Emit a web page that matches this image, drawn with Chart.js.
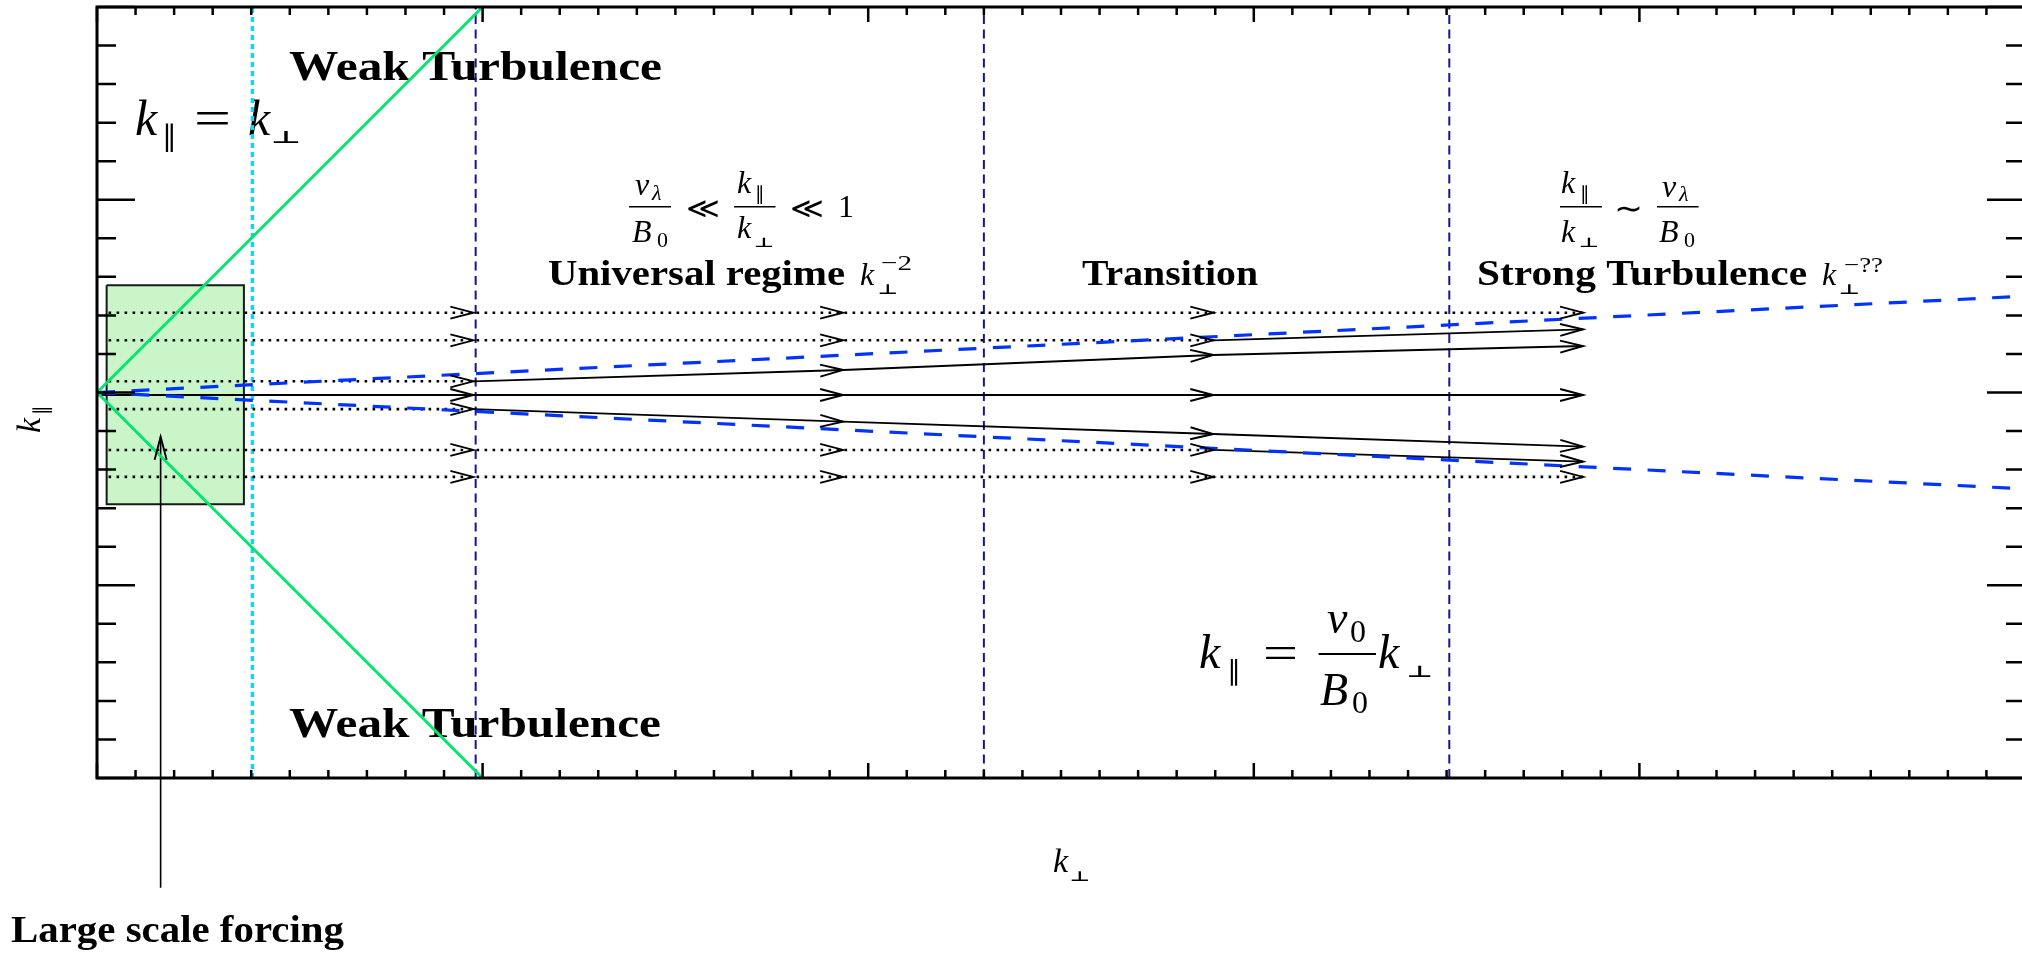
<!DOCTYPE html>
<html><head><meta charset="utf-8">
<script src="https://cdn.jsdelivr.net/npm/chart.js@4.4.1/dist/chart.umd.min.js"></script>
<style>
html,body{margin:0;padding:0;background:#fff;overflow:hidden;width:2022px;height:953px}
#wrap{width:2026px;height:953px;position:relative}
</style></head>
<body><div id="wrap"><canvas id="c" width="2026" height="953"></canvas></div>
<script>
// ---------- data ----------
const xRange = [0, 50];
const yRange = [-10, 10];
const xMinorStep = 1, xMajorStep = 10;
const yMinorStep = 1, yMajorStep = 5;

const knotsX = [0.3, 9.76, 19.35, 28.95, 38.54];
const dottedY = [2.07, 1.354, 0.29, -0.43, -1.49, -2.19];
const dottedKnots = [5, 4, 2, 2, 4, 5];

const centerX = [0, 9.76, 19.35, 28.95, 38.54];
const centerY = [-0.065, -0.065, -0.065, -0.065, -0.065];

const fanX = [9.76, 19.35, 28.95, 38.54];
const fanUpperY = [0.29, 0.584, 0.973, 1.206];
const fanLowerY = [-0.43, -0.757, -1.077, -1.406];

const outerX = [28.95, 38.54];
const outerUpperY = [1.354, 1.64];
const outerLowerY = [-1.49, -1.795];

const blueX = [0, 50];
const blueUpperY = [0, 2.5];
const blueLowerY = [0, -2.5];

const greenX = [0, 10];
const greenUpperY = [0, 10];
const greenLowerY = [0, -10];

const regimeX = [9.82, 23.0, 35.07];
const cyanX = [4.03];

const boxX = [0.25, 3.81];
const boxY = [-2.9, 2.78];

const forcingX = [1.65, 1.65];
const forcingY = [-12.85, -1.15];

// ---------- build datasets ----------
const pts = (xs, ys) => xs.map((x, i) => ({x, y: ys[i]}));
const datasets = [];
function add(points, opts) {
  datasets.push(Object.assign({data: points, showLine: true, pointRadius: 0, pointHoverRadius: 0,
    borderWidth: 1.8, borderColor: '#000', fill: false, tension: 0}, opts));
}
// green lines (top)
add(pts(greenX, greenUpperY), {borderColor: '#00e66e', borderWidth: 3, order: 1});
add(pts(greenX, greenLowerY), {borderColor: '#00e66e', borderWidth: 3, order: 1});
// blue dashed
add(pts(blueX, blueUpperY), {borderColor: '#0033ff', borderWidth: 3.2, borderDash: [18, 16.5], order: 2});
add(pts(blueX, blueLowerY), {borderColor: '#0033ff', borderWidth: 3.2, borderDash: [18, 16.5], order: 2});
// dotted arrow rows
dottedY.forEach((yv, i) => {
  const xs = knotsX.slice(0, dottedKnots[i]);
  add(pts(xs, xs.map(() => yv)), {borderDash: [2.6, 5.4], borderWidth: 2.6, arrows: true, order: 3});
});
// solid arrows
add(pts(centerX, centerY), {arrows: true, order: 3});
add(pts(fanX, fanUpperY), {arrows: true, order: 3});
add(pts(fanX, fanLowerY), {arrows: true, order: 3});
add(pts(outerX, outerUpperY), {arrows: true, order: 3});
add(pts(outerX, outerLowerY), {arrows: true, order: 3});
// forcing arrow (goes below the axis)
add(pts(forcingX, forcingY), {borderWidth: 1.6, arrows: true, clip: false, order: 3});
// vertical regime lines
regimeX.forEach(xv => add(pts([xv, xv], yRange), {borderColor: '#14149b', borderWidth: 2, borderDash: [9, 5.5], order: 4}));
cyanX.forEach(xv => add(pts([xv, xv], yRange), {borderColor: '#00dcff', borderWidth: 3.5, borderDash: [5, 4], order: 4}));
// forcing box: outline + fill
add(pts([boxX[0], boxX[1], boxX[1], boxX[0], boxX[0]], [boxY[1], boxY[1], boxY[0], boxY[0], boxY[1]]),
    {borderColor: '#1a1a1a', borderWidth: 2, order: 9});
add(pts(boxX, [boxY[1], boxY[1]]), {borderWidth: 0, fill: '+1', backgroundColor: '#c9f5c9', order: 10});
add(pts(boxX, [boxY[0], boxY[0]]), {borderWidth: 0, order: 10});

// ---------- text layout ----------
const SERIF = '"Liberation Serif","DejaVu Serif",serif';
function fontOf(s, z) {
  if (s === 'b') return 'bold ' + z + 'px ' + SERIF;
  if (s === 'i') return 'italic ' + z + 'px ' + SERIF;
  if (s === 'm') return z + 'px "DejaVu Sans","DejaVu Serif",sans-serif';
  if (s === 'mb') return 'bold ' + z + 'px "DejaVu Sans","DejaVu Serif",sans-serif';
  return z + 'px ' + SERIF;
}
const texts = [
  {t: 'Weak Turbulence', s: 'b', z: 43, x: 289, y: 80, w: 373},
  {t: 'Weak Turbulence', s: 'b', z: 43, x: 289, y: 737, w: 372},
  {t: 'Universal regime', s: 'b', z: 35, x: 548, y: 285, w: 297},
  {t: 'Transition', s: 'b', z: 35, x: 1082, y: 285, w: 176},
  {t: 'Strong Turbulence', s: 'b', z: 35, x: 1477, y: 285, w: 330},
  {t: 'Large scale forcing', s: 'b', z: 37, x: 11, y: 942, w: 333},
  // k_par = k_perp (top left)
  {t: 'k', s: 'i', z: 50, x: 135, y: 135},
  {t: '∥', s: 'm', z: 29, x: 162, y: 146},
  {t: '=', s: 'r', z: 50, x: 194, y: 135, w: 37},
  {t: 'k', s: 'i', z: 50, x: 248, y: 135},
  {t: '⊥', s: 'mb', z: 17, x: 271, y: 143, w: 30},
  // v_l/B0 << kpar/kperp << 1
  {t: 'v', s: 'i', z: 32, x: 635, y: 195},
  {t: 'λ', s: 'i', z: 22, x: 652, y: 200},
  {t: 'B', s: 'i', z: 32, x: 632, y: 241.7},
  {t: '0', s: 'r', z: 22, x: 657, y: 246.7},
  {t: '≪', s: 'm', z: 29, x: 686, y: 218, w: 34},
  {t: 'k', s: 'i', z: 32, x: 737, y: 193.3},
  {t: '∥', s: 'm', z: 19, x: 755, y: 200},
  {t: 'k', s: 'i', z: 32, x: 737, y: 238.3},
  {t: '⊥', s: 'mb', z: 13, x: 754, y: 246.5, w: 20},
  {t: '≪', s: 'm', z: 29, x: 790, y: 218, w: 34},
  {t: '1', s: 'r', z: 32, x: 838, y: 216.7},
  // kpar/kperp ~ v_l/B0
  {t: 'k', s: 'i', z: 32, x: 1561, y: 193},
  {t: '∥', s: 'm', z: 19, x: 1580, y: 200},
  {t: 'k', s: 'i', z: 32, x: 1561, y: 241.7},
  {t: '⊥', s: 'mb', z: 13, x: 1579, y: 247, w: 20},
  {t: '∼', s: 'm', z: 32, x: 1614, y: 219, w: 29},
  {t: 'v', s: 'i', z: 32, x: 1662, y: 196.7},
  {t: 'λ', s: 'i', z: 22, x: 1679, y: 201},
  {t: 'B', s: 'i', z: 32, x: 1659, y: 241.7},
  {t: '0', s: 'r', z: 22, x: 1684, y: 246.7},
  // exponents
  {t: 'k', s: 'i', z: 32, x: 860, y: 285},
  {t: '⊥', s: 'mb', z: 14, x: 878, y: 293.5, w: 20},
  {t: '−2', s: 'r', z: 22, x: 881, y: 270, w: 31},
  {t: 'k', s: 'i', z: 32, x: 1822, y: 285},
  {t: '⊥', s: 'mb', z: 14, x: 1839, y: 293.5, w: 21},
  {t: '−??', s: 'r', z: 22, x: 1844, y: 272, w: 39},
  // k_par = v0/B0 k_perp
  {t: 'k', s: 'i', z: 48, x: 1199, y: 668},
  {t: '∥', s: 'm', z: 27, x: 1227, y: 680},
  {t: '=', s: 'r', z: 46, x: 1263, y: 668, w: 35},
  {t: 'v', s: 'i', z: 46, x: 1327, y: 633},
  {t: '0', s: 'r', z: 32, x: 1350, y: 641.7},
  {t: 'B', s: 'i', z: 46, x: 1320, y: 705},
  {t: '0', s: 'r', z: 32, x: 1352, y: 713},
  {t: 'k', s: 'i', z: 48, x: 1378, y: 668},
  {t: '⊥', s: 'mb', z: 16, x: 1407, y: 677, w: 26},
  // x axis title
  {t: 'k', s: 'i', z: 34, x: 1053, y: 871.7},
  {t: '⊥', s: 'mb', z: 14, x: 1070, y: 880.5, w: 20}
];
const bars = [
  {x1: 629, x2: 671, y: 206.7, lw: 1.6},
  {x1: 734, x2: 775.5, y: 206.7, lw: 1.6},
  {x1: 1560, x2: 1602, y: 206.7, lw: 1.6},
  {x1: 1657, x2: 1698.6, y: 206.7, lw: 1.6},
  {x1: 1318.6, x2: 1376, y: 654, lw: 2}
];

function drawPiece(ctx, p) {
  ctx.save();
  ctx.font = fontOf(p.s, p.z);
  ctx.fillStyle = '#000';
  ctx.textAlign = 'left';
  ctx.textBaseline = 'alphabetic';
  ctx.translate(p.x, p.y);
  if (p.w) { const m = ctx.measureText(p.t).width; ctx.scale(p.w / m, 1); }
  ctx.fillText(p.t, 0, 0);
  ctx.restore();
}

const textPlugin = {
  id: 'texts',
  beforeDatasetsDraw(chart) {
    const ctx = chart.ctx;
    texts.forEach(p => drawPiece(ctx, p));
    ctx.save();
    ctx.strokeStyle = '#000';
    bars.forEach(b => { ctx.lineWidth = b.lw; ctx.beginPath(); ctx.moveTo(b.x1, b.y); ctx.lineTo(b.x2, b.y); ctx.stroke(); });
    // rotated y-axis title k_par
    ctx.translate(40, 433);
    ctx.rotate(-Math.PI / 2);
    drawPiece(ctx, {t: 'k', s: 'i', z: 34, x: 0, y: 0});
    drawPiece(ctx, {t: '∥', s: 'm', z: 20, x: 18, y: 8});
    ctx.restore();
  }
};

const arrowPlugin = {
  id: 'arrows',
  afterDatasetsDraw(chart) {
    const ctx = chart.ctx;
    ctx.save();
    ctx.strokeStyle = '#000';
    ctx.lineWidth = 1.9;
    ctx.setLineDash([]);
    chart.data.datasets.forEach((d, i) => {
      if (!d.arrows) return;
      const el = chart.getDatasetMeta(i).data;
      for (let j = 1; j < el.length; j++) {
        const x1 = el[j - 1].x, y1 = el[j - 1].y, x2 = el[j].x, y2 = el[j].y;
        const a = Math.atan2(y2 - y1, x2 - x1), L = 23, W = 6;
        const bx = x2 - L * Math.cos(a), by = y2 - L * Math.sin(a);
        ctx.beginPath();
        ctx.moveTo(bx - W * Math.sin(a), by + W * Math.cos(a));
        ctx.lineTo(x2, y2);
        ctx.lineTo(bx + W * Math.sin(a), by - W * Math.cos(a));
        ctx.stroke();
      }
    });
    // axes box with inward ticks
    const a = chart.chartArea, xs = chart.scales.x, ys = chart.scales.y;
    ctx.lineWidth = 2.5;
    ctx.beginPath();
    for (let v = xRange[0]; v <= xRange[1]; v += xMinorStep) {
      const px = xs.getPixelForValue(v);
      const L = (Math.round(v) % xMajorStep === 0) ? 15 : 8;
      ctx.moveTo(px, a.bottom); ctx.lineTo(px, a.bottom - L);
      ctx.moveTo(px, a.top); ctx.lineTo(px, a.top + L);
    }
    for (let v = yRange[0]; v <= yRange[1]; v += yMinorStep) {
      const py = ys.getPixelForValue(v);
      const L = (Math.round(v) % yMajorStep === 0) ? 38 : 19;
      ctx.moveTo(a.left, py); ctx.lineTo(a.left + L, py);
      ctx.moveTo(a.right, py); ctx.lineTo(a.right - L, py);
    }
    ctx.stroke();
    ctx.lineWidth = 3;
    ctx.strokeRect(a.left, a.top, a.right - a.left, a.bottom - a.top);
    ctx.restore();
  }
};

new Chart(document.getElementById('c'), {
  type: 'scatter',
  data: {datasets},
  options: {
    responsive: false,
    animation: false,
    devicePixelRatio: 1,
    layout: {padding: {left: 97, top: 7, right: 1, bottom: 175}},
    scales: {
      x: {type: 'linear', min: xRange[0], max: xRange[1], display: false},
      y: {type: 'linear', min: yRange[0], max: yRange[1], display: false}
    },
    plugins: {legend: {display: false}, tooltip: {enabled: false}},
    events: []
  },
  plugins: [textPlugin, arrowPlugin]
});
</script></body></html>
